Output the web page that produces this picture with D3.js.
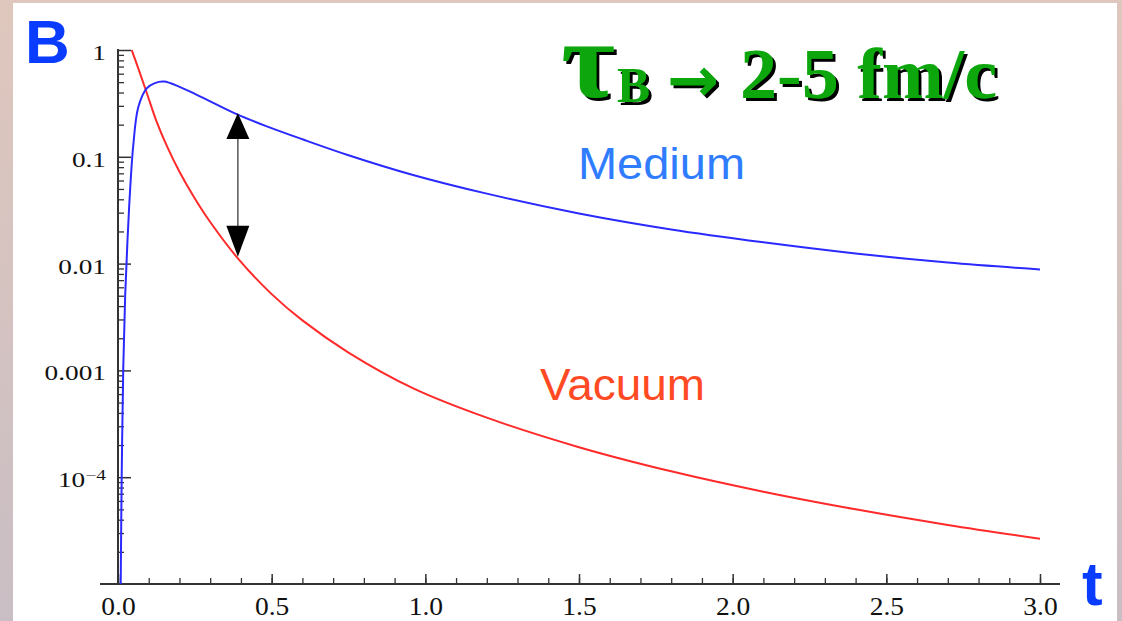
<!DOCTYPE html>
<html>
<head>
<meta charset="utf-8">
<script src="https://cdn.jsdelivr.net/npm/d3@7"></script>
<style>
  body { margin: 0; overflow: hidden; }
</style>
</head>
<body>
<div id="chart"></div>
<script>
var chart_width = 1122,
    chart_height = 621;

// Curves (t, value)
var medium_t = [0.0088, 0.012, 0.0172, 0.0234, 0.0309, 0.039, 0.0498, 0.0661, 0.0934, 0.12, 0.15,
                0.2, 0.25, 0.3, 0.386, 0.48, 0.6, 0.75, 0.96, 1.2, 1.5, 1.8, 2.1, 2.4, 2.7, 3.0];
var medium_b = [1.0e-5, 1.0e-4, 1.08e-3, 5.08e-3, 0.0166, 0.0468, 0.129, 0.2925, 0.4375, 0.49, 0.506,
                0.452, 0.389, 0.331, 0.251, 0.195, 0.146, 0.1035, 0.0676, 0.0452, 0.0295, 0.0209, 0.01585, 0.01245, 0.01023, 0.00881];

var vacuum_t = [0.0446, 0.055, 0.07, 0.0934, 0.125, 0.16, 0.2, 0.25, 0.3, 0.39, 0.5, 0.6, 0.75,
                0.961, 1.2, 1.5, 1.8, 2.1, 2.4, 2.7, 3.0];
var vacuum_b = [1.0, 0.826, 0.624, 0.398, 0.216, 0.1245, 0.0724, 0.0407, 0.0245, 0.0112, 0.00518, 0.00294, 0.00147,
                6.79e-4, 3.61e-4, 1.91e-4, 1.135e-4, 7.31e-5, 5.0e-5, 3.57e-5, 2.65e-5];

// Ticks
var x_ticks = [0, 0.5, 1, 1.5, 2, 2.5, 3];
var x_tick_labels = ['0.0', '0.5', '1.0', '1.5', '2.0', '2.5', '3.0'];
var x_minor = d3.range(0, 31).map((i) => i / 10);
var y_ticks = [1, 0.1, 0.01, 0.001, 1e-4];
var y_tick_labels = ['1', '0.1', '0.01', '0.001', '10-4'];

// Double arrow between the curves
var arrow_t = 0.39;
var arrow_b = [0.257, 0.0116];

var svg = d3.select('#chart')
            .append('svg')
            .attr('width', chart_width)
            .attr('height', chart_height);

// Background frame
var defs = svg.append('defs');
var grad = defs.append('linearGradient')
               .attr('id', 'frame')
               .attr('x1', 0).attr('y1', 0).attr('x2', 0).attr('y2', 1);
grad.append('stop').attr('offset', '0%').attr('stop-color', '#dfc7bd');
grad.append('stop').attr('offset', '100%').attr('stop-color', '#c9bec4');

// hard black drop shadow for the green title
var shadow = defs.append('filter').attr('id', 'shadow')
                 .attr('filterUnits', 'userSpaceOnUse')
                 .attr('x', 0).attr('y', 0)
                 .attr('width', chart_width).attr('height', chart_height);
shadow.append('feDropShadow')
      .attr('dx', 3).attr('dy', 3)
      .attr('stdDeviation', 0.6)
      .attr('flood-color', '#000')
      .attr('flood-opacity', 1);

svg.append('rect')
   .attr('width', chart_width)
   .attr('height', chart_height)
   .attr('fill', 'url(#frame)');
svg.append('rect')
   .attr('x', 13).attr('y', 3)
   .attr('width', 1104).attr('height', 618)
   .attr('fill', '#ffffff');

//Create Scales
var x_scale = d3.scaleLinear()
                .domain([0, 3])
                .range([118, 1040]);

var y_scale = d3.scaleLog()
                .domain([1e-5, 1])
                .range([584, 50]);

// Y axis: minor ticks then majors (ticks point inward)
var y_minor = [];
[1e-5, 1e-4, 1e-3, 1e-2, 0.1].forEach((d) => {
    for (var k = 2; k <= 9; k++) y_minor.push(d * k);
});

svg.append('g')
   .attr('transform', 'translate(' + x_scale(0) + ',0)')
   .call(d3.axisLeft(y_scale).tickValues(y_minor).tickSize(-6).tickFormat(''))
   .call((g) => g.select('.domain').remove())
   .selectAll('line').attr('stroke', '#333').attr('stroke-width', 1.3);

var y_axis = svg.append('g')
   .attr('transform', 'translate(' + x_scale(0) + ',0)')
   .call(d3.axisLeft(y_scale)
            .tickValues(y_ticks)
            .tickSize(-13)
            .tickPadding(12)
            .tickFormat((d, i) => y_tick_labels[i]));
y_axis.select('.domain').remove();
y_axis.selectAll('line').attr('stroke', '#333').attr('stroke-width', 1.5);
y_axis.selectAll('text')
      .attr('font-family', '"Liberation Serif", "Times New Roman", serif')
      .attr('font-size', 21)
      .attr('fill', '#111')
      .attr('dy', '0.45em')
      .attr('x', -12 / 1.3)
      .attr('transform', 'scale(1.3,1)')
      .each(function (d, i) {
          if (y_tick_labels[i] === '10-4') {
              var t = d3.select(this).text('');
              t.append('tspan').text('10');
              t.append('tspan').text('\u22124')
               .attr('font-size', 15)
               .attr('dy', '-0.45em');
          }
      });

// X axis
svg.append('g')
   .attr('transform', 'translate(0,' + y_scale(1e-5) + ')')
   .call(d3.axisBottom(x_scale).tickValues(x_minor).tickSize(-6).tickFormat(''))
   .call((g) => g.select('.domain').remove())
   .selectAll('line').attr('stroke', '#333').attr('stroke-width', 1.3);

var x_axis = svg.append('g')
   .attr('transform', 'translate(0,' + y_scale(1e-5) + ')')
   .call(d3.axisBottom(x_scale)
            .tickValues(x_ticks)
            .tickSize(-10)
            .tickPadding(13)
            .tickFormat((d, i) => x_tick_labels[i]));
x_axis.select('.domain').remove();
x_axis.selectAll('line').attr('stroke', '#333').attr('stroke-width', 1.5);
x_axis.selectAll('text')
      .attr('font-family', '"Liberation Serif", "Times New Roman", serif')
      .attr('font-size', 25)
      .attr('fill', '#111')
      .attr('x', 0)
      .attr('transform', 'scale(1.1,1)');

// Axis lines
svg.append('line')
   .attr('x1', x_scale(0)).attr('x2', x_scale(0))
   .attr('y1', y_scale(1) - 1).attr('y2', y_scale(1e-5))
   .attr('stroke', '#333').attr('stroke-width', 2);
svg.append('line')
   .attr('x1', x_scale(0) - 18).attr('x2', x_scale(3) + 20)
   .attr('y1', y_scale(1e-5)).attr('y2', y_scale(1e-5))
   .attr('stroke', '#333').attr('stroke-width', 2);

// Curves
var line = d3.line()
             .x((d) => x_scale(d[0]))
             .y((d) => y_scale(d[1]))
             .curve(d3.curveCatmullRom.alpha(0.5));

svg.append('path')
   .datum(d3.zip(vacuum_t, vacuum_b))
   .attr('d', line)
   .attr('fill', 'none')
   .attr('stroke', '#ff2a2a')
   .attr('stroke-width', 2);

svg.append('path')
   .datum(d3.zip(medium_t, medium_b))
   .attr('d', line)
   .attr('fill', 'none')
   .attr('stroke', '#2a2aff')
   .attr('stroke-width', 2);

// Double headed arrow
var ax = x_scale(arrow_t),
    ay1 = y_scale(arrow_b[0]),
    ay2 = y_scale(arrow_b[1]);
svg.append('line')
   .attr('x1', ax).attr('x2', ax)
   .attr('y1', ay1 + 20).attr('y2', ay2 - 20)
   .attr('stroke', '#555').attr('stroke-width', 1.5);
svg.append('path')
   .attr('d', 'M' + ax + ',' + ay1 + 'L' + (ax - 11.5) + ',' + (ay1 + 26) + 'L' + (ax + 11.5) + ',' + (ay1 + 26) + 'Z')
   .attr('fill', '#000');
svg.append('path')
   .attr('d', 'M' + ax + ',' + ay2 + 'L' + (ax - 11.5) + ',' + (ay2 - 31) + 'L' + (ax + 11.5) + ',' + (ay2 - 31) + 'Z')
   .attr('fill', '#000');

// Curve labels
svg.append('text')
   .text('Medium')
   .attr('x', 578).attr('y', 179)
   .attr('font-family', '"Liberation Sans", Arial, sans-serif')
   .attr('font-size', 44)
   .attr('textLength', 167)
   .attr('lengthAdjust', 'spacingAndGlyphs')
   .attr('fill', '#2f7cff');

svg.append('text')
   .text('Vacuum')
   .attr('x', 540).attr('y', 400)
   .attr('font-family', '"Liberation Sans", Arial, sans-serif')
   .attr('font-size', 44)
   .attr('textLength', 165)
   .attr('lengthAdjust', 'spacingAndGlyphs')
   .attr('fill', '#ff4a24');

// Panel letter and axis name
svg.append('text')
   .text('B')
   .attr('x', 25).attr('y', 63)
   .attr('font-family', '"Liberation Sans", Arial, sans-serif')
   .attr('font-weight', 'bold')
   .attr('font-size', 62)
   .attr('fill', '#0a3cff');

svg.append('text')
   .text('t')
   .attr('x', 1082).attr('y', 605)
   .attr('font-family', '"Liberation Sans", Arial, sans-serif')
   .attr('font-weight', 'bold')
   .attr('font-size', 62)
   .attr('fill', '#0a3cff');

// Title, green with a black drop shadow
var title_parts = [
    { text: '\u03C4', x: 561, y: 97, size: 110, len: 54, font: '"Liberation Serif", "Times New Roman", serif' },
    { text: 'B', x: 617, y: 102, size: 50, len: 33, font: '"Liberation Serif", "Times New Roman", serif' },
    { text: '\u2192', x: 667, y: 101, size: 62, len: 52, font: '"DejaVu Sans", sans-serif' },
    { text: '2-5 fm/c', x: 740, y: 98, size: 72, len: 257, font: '"Liberation Serif", "Times New Roman", serif' }
];
svg.append('g')
   .attr('filter', 'url(#shadow)')
   .selectAll('text')
   .data(title_parts)
   .enter()
   .append('text')
   .text((d) => d.text)
   .attr('x', (d) => d.x)
   .attr('y', (d) => d.y)
   .attr('font-family', (d) => d.font)
   .attr('font-weight', 'bold')
   .attr('font-size', (d) => d.size)
   .attr('textLength', (d) => d.len)
   .attr('lengthAdjust', 'spacingAndGlyphs')
   .attr('fill', '#0aa60a');
</script>
</body>
</html>
